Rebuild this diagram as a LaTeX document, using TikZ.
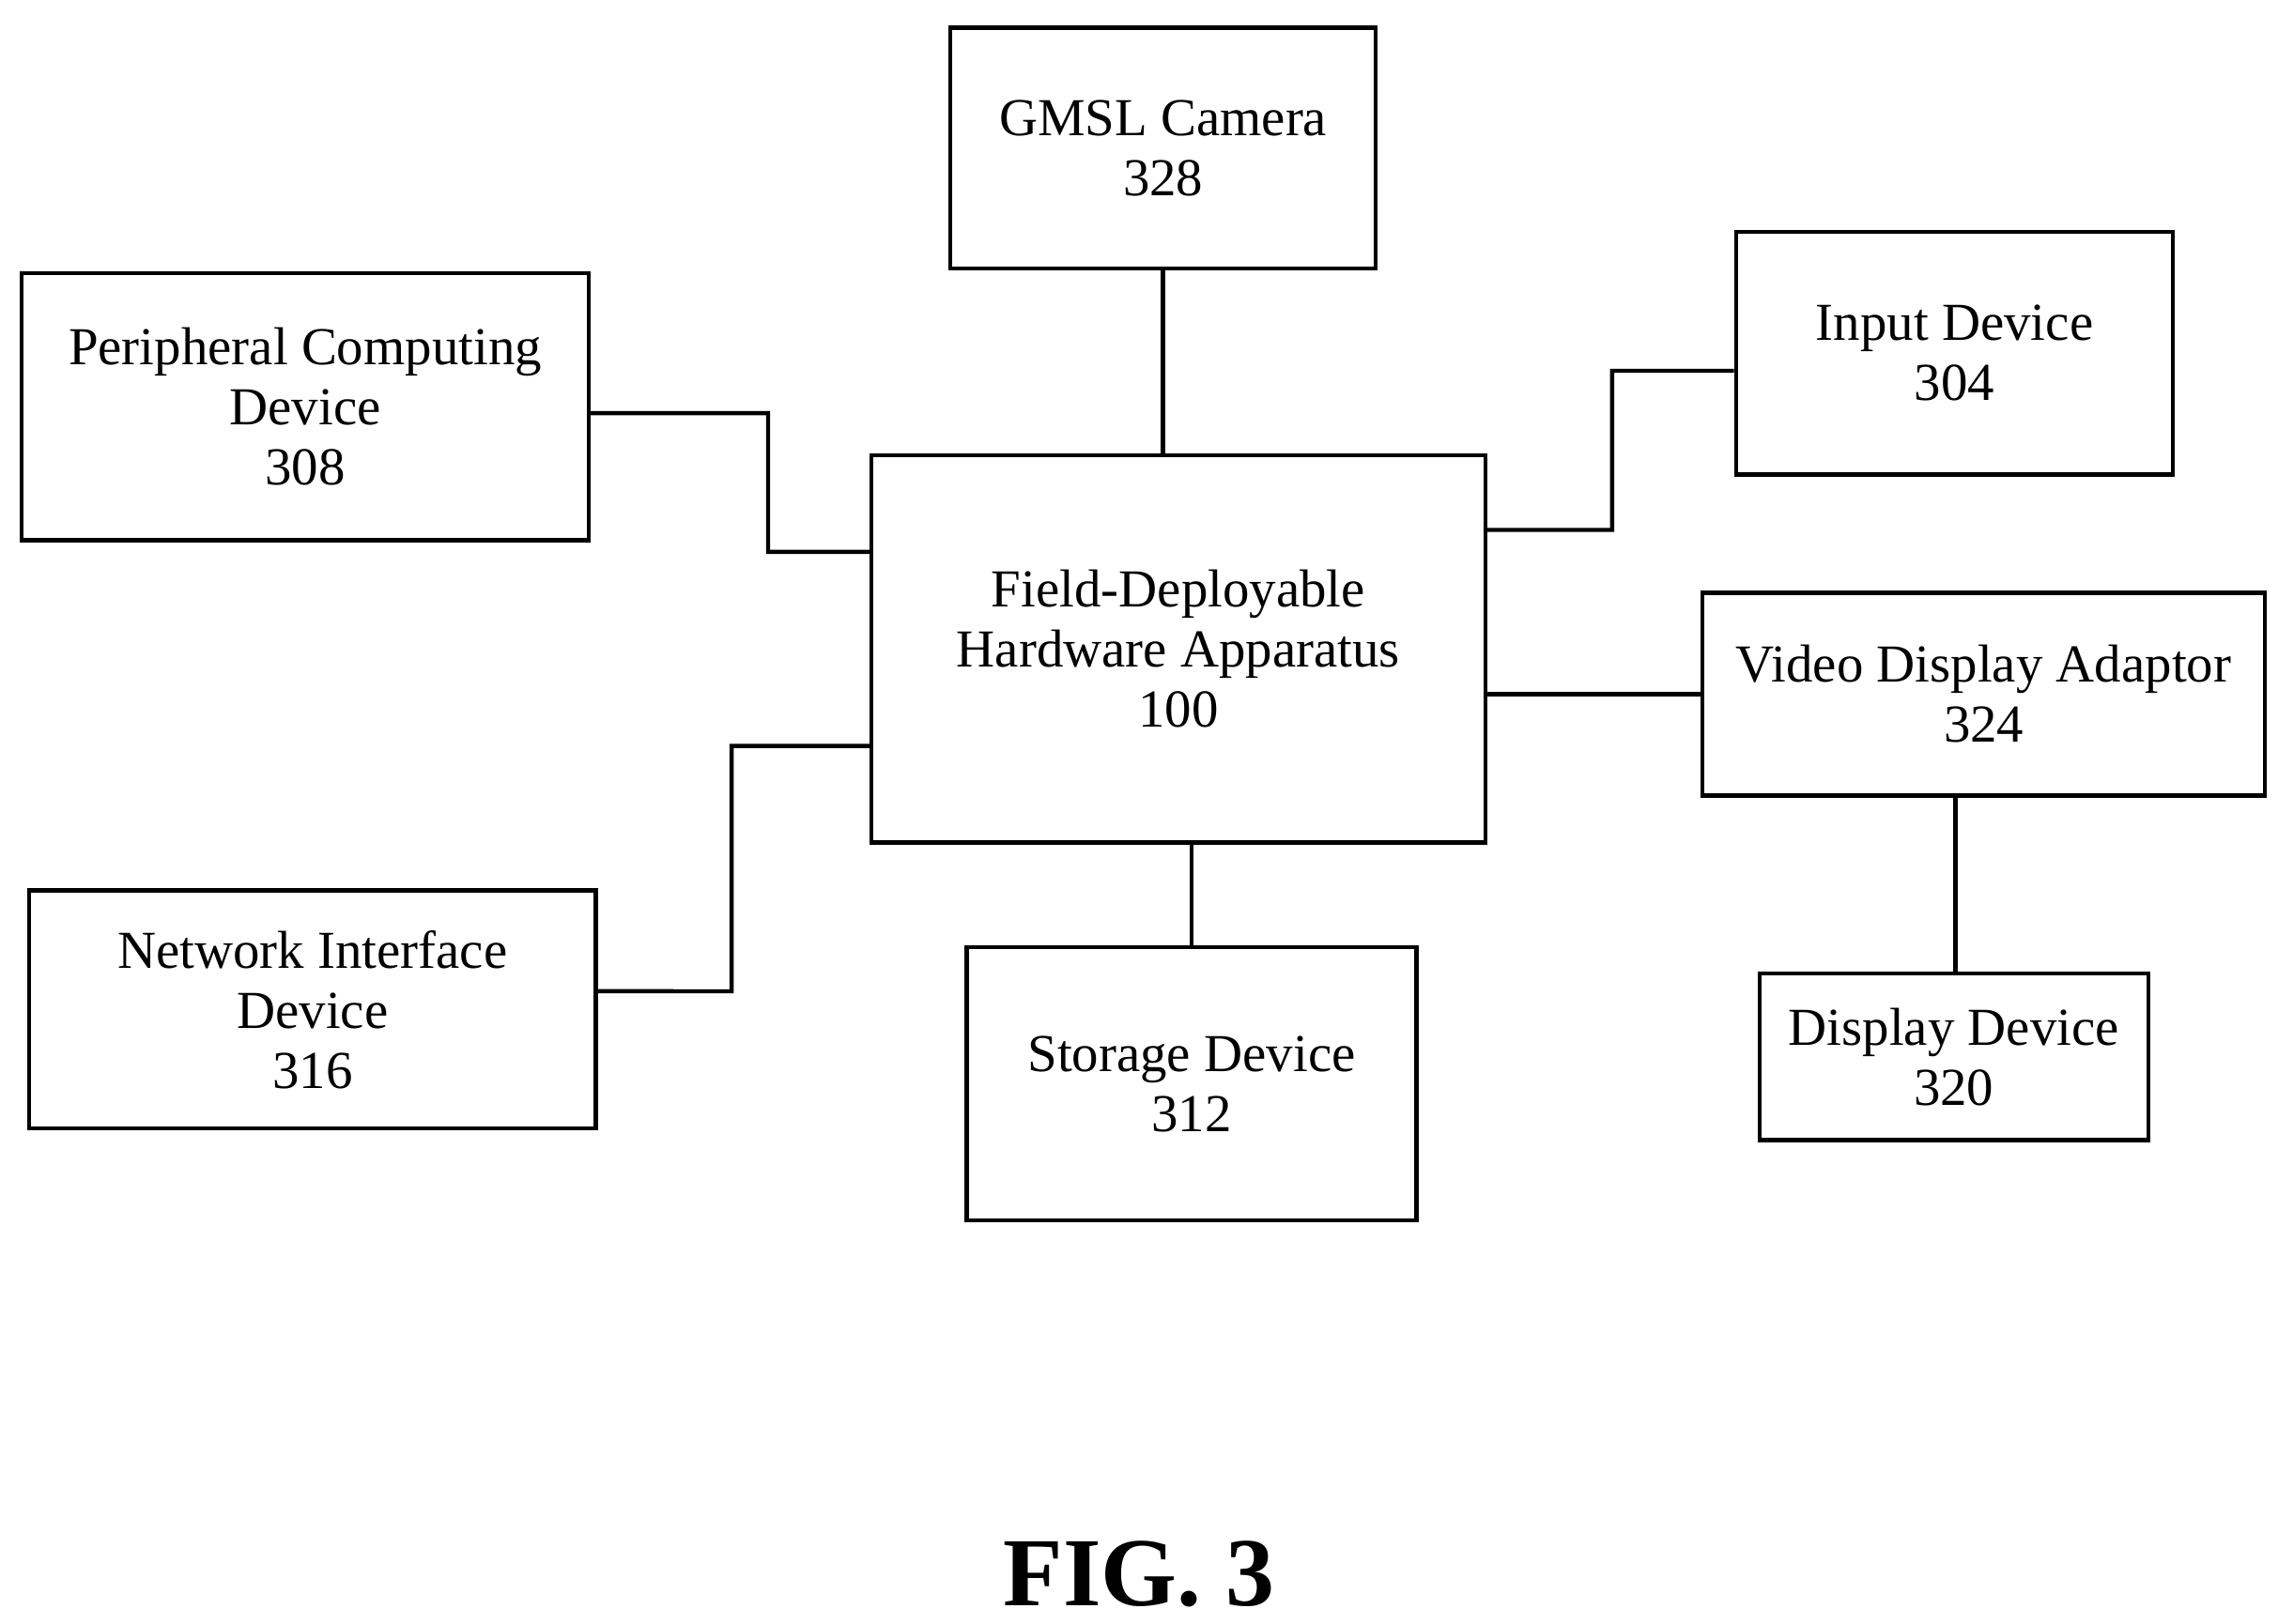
\documentclass[tikz,border=0pt]{standalone}
\usepackage{fontspec}
\setmainfont{Liberation Serif}
\begin{document}
\begin{tikzpicture}[x=0.01cm,y=-0.01cm,
  box/.style={draw,line width=0.8pt,rectangle,inner sep=0pt,align=center,font=\fontsize{10.4}{11.7}\selectfont},
  wire/.style={line width=0.8pt}]
\useasboundingbox (0,0) rectangle (1560,1112);
\node[box,minimum width=2.91cm,minimum height=1.65cm] (cam) at (796.5,101.5) {GMSL Camera\\328};
\node[box,minimum width=3.88cm,minimum height=1.83cm] (per) at (209,278.5) {Peripheral Computing\\Device\\308};
\node[box,minimum width=2.99cm,minimum height=1.66cm] (inp) at (1338.5,242) {Input Device\\304};
\node[box,minimum width=4.20cm,minimum height=2.65cm] (fda) at (807,444.5) {Field-Deployable\\Hardware Apparatus\\100};
\node[box,minimum width=3.85cm,minimum height=1.39cm] (vid) at (1358.5,475.5) {Video Display Adaptor\\324};
\node[box,minimum width=3.88cm,minimum height=1.63cm] (net) at (214,691.5) {Network Interface\\Device\\316};
\node[box,minimum width=3.08cm,minimum height=1.87cm] (sto) at (816,742.5) {Storage Device\\312};
\node[box,minimum width=2.66cm,minimum height=1.14cm] (dis) at (1338,724) {Display Device\\320};
\node[font=\bfseries\fontsize{19}{19}\selectfont] (fig) at (780,1078) {FIG. 3};
\draw[wire] (cam.south) -- (cam.south |- fda.north);
\draw[wire] ([yshift=-0.045cm]per.east) -- (526,283) -- (526,378) -- (fda.west |- 526,378);
\draw[wire] ([yshift=0.125cm]net.east) -- (501,679) -- (501,511) -- (fda.west |- 501,511);
\draw[wire] ([yshift=-0.12cm]inp.west) -- (1104,254) -- (1104,363) -- (fda.east |- 1104,363);
\draw[wire] (vid.west) -- (fda.east |- vid.west);
\draw[wire] (sto.north) -- (sto.north |- fda.south);
\draw[wire] (vid.south -| 1339,0) -- (dis.north -| 1339,0);
\end{tikzpicture}
\end{document}
